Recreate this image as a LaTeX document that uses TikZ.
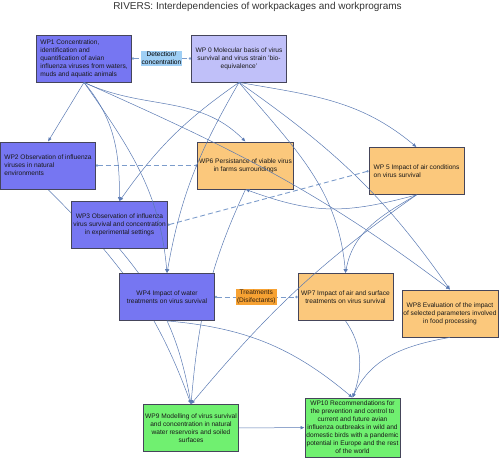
\documentclass[tikz,border=0pt]{standalone}
\usepackage{fontspec}
\setmainfont{Liberation Sans}
\usetikzlibrary{arrows.meta,positioning,calc}
\pgfdeclarelayer{background}
\pgfsetlayers{background,main}
\definecolor{wpblue}{HTML}{7676F2}
\definecolor{wplilac}{HTML}{C0C0F9}
\definecolor{wporange}{HTML}{FBC87C}
\definecolor{wpgreen}{HTML}{70F070}
\definecolor{wpedge}{HTML}{45455A}
\definecolor{flowline}{HTML}{5A7AB3}
\definecolor{dashline}{HTML}{7C9CCB}
\definecolor{detfill}{HTML}{9FCFF5}
\definecolor{treatfill}{HTML}{F7A233}
\tikzset{
  wp/.style={draw=wpedge, line width=0.8pt, minimum width=95pt, minimum height=47pt, inner sep=1.5pt,
    font=\fontsize{6.6}{8}\selectfont, text=black!90, align=center},
  flow/.style={draw=flowline, line width=0.5pt, -{Latex[length=4pt,width=3.5pt]}},
  dashflow/.style={draw=dashline, line width=0.9pt, dash pattern=on 5pt off 3pt, {Circle[length=2.2pt]}-{Circle[length=2.2pt]}},
  tagbox/.style={inner sep=1pt, font=\fontsize{6.6}{8}\selectfont, align=center}
}
\begin{document}
\begin{tikzpicture}[x=1pt,y=1pt]
\useasboundingbox (0,0) rectangle (500,-458);
\node[font=\fontsize{10}{12}\selectfont, text=black!80] (title) at (257.5,-7) {RIVERS: Interdependencies of workpackages and workprograms};

\node[wp, fill=wpblue, align=left] (wp1) at (84,-58.5) {WP1 Concentration,\\identification and\\quantification of avian\\influenza viruses from waters,\\muds and aquatic animals};
\node[wp, fill=wplilac] (wp0) at (239,-58.5) {WP 0 Molecular basis of virus\\survival and virus strain 'bio-\\equivalence'};
\node[wp, fill=wpblue, align=left] (wp2) at (48,-165.5) {WP2 Observation of influenza\\viruses in natural\\environments};
\node[wp, fill=wporange] (wp6) at (245.5,-165.5) {WP6 Persistance of viable virus\\in farms surroundings};
\node[wp, fill=wporange, align=left] (wp5) at (416.5,-171) {WP 5 Impact of air conditions\\on virus survival};
\node[wp, fill=wpblue] (wp3) at (119.5,-225) {WP3 Observation of influenza\\virus survival and concentration\\in experimental settings};
\node[wp, fill=wpblue] (wp4) at (167,-297) {WP4 Impact of water\\treatments on virus survival};
\node[wp, fill=wporange] (wp7) at (345.5,-297) {WP7 Impact of air and surface\\treatments on virus survival};
\node[wp, fill=wporange] (wp8) at (450,-313.5) {WP8 Evaluation of the impact\\of selected parameters involved\\in food processing};
\node[wp, fill=wpgreen] (wp9) at (191,-428) {WP9 Modelling of virus survival\\and concentration in natural\\water reservoirs and soiled\\surfaces};
\node[wp, fill=wpgreen, minimum height=59pt] (wp10) at (352.5,-427.5) {WP10 Recommendations for\\the prevention and control to\\current and future avian\\influenza outbreaks in wild and\\domestic birds with a pandemic\\potential in Europe and the rest\\of the world};

\begin{pgfonlayer}{background}
\draw[dashflow] (wp1.east) -- node[tagbox, fill=detfill] (det) {Detection/\\concentration} (wp0.west);
\draw[dashflow] (wp2.east) -- (wp6.west);
\draw[dashflow] (wp3.east) -- (wp5.west);
\draw[dashflow] (wp4.east) -- node[tagbox, fill=treatfill, text=black!75!brown] (treat) {Treatments\\(Disifectants)} (wp7.west);
\draw[flow] (wp2.south) to[out=-45,in=110] (wp9.north);
\draw[flow] (wp3.south) to[out=-50,in=100] (wp9.north);
\draw[flow] (wp6.south) to[out=-115,in=85] (wp9.north);
\end{pgfonlayer}

\draw[flow] (wp1.south) -- (wp2.north);
\draw[flow] (wp1.south) to[out=-50,in=90] (wp3.north);
\draw[flow] (wp1.south) to[out=-55,in=95] (wp4.north);
\draw[flow] (wp1.south) to[out=-25,in=135] (wp6.north);
\draw[flow] (wp1.south) to[out=-24,in=143] (wp8.north);
\draw[flow] (wp0.south) to[bend right=10] (wp3.north);
\draw[flow] (wp0.south) to[out=-120,in=80] (wp4.north);
\draw[flow] (wp0.south) to[out=-10,in=140] (wp5.north);
\draw[flow] (wp0.south) to[out=-50,in=95] (wp7.north);
\draw[flow] (wp0.south) to[out=-35,in=125] (wp8.north);
\draw[flow] (wp5.south) to[out=-165,in=-20,looseness=1.1] (wp6.south);
\draw[flow] (wp5.south) to[out=-150,in=80] (wp7.north);
\draw[flow] (wp5.south) to[out=-145,in=50] (wp9.north);
\draw[flow] (wp4.south) to[out=-5,in=140] (wp10.north);
\draw[flow] (wp7.south) to[out=-55,in=70] (wp10.north);
\draw[flow] (wp8.south) to[out=-170,in=65] (wp10.north);
\draw[flow] (wp9) -- (wp10);
\end{tikzpicture}
\end{document}
